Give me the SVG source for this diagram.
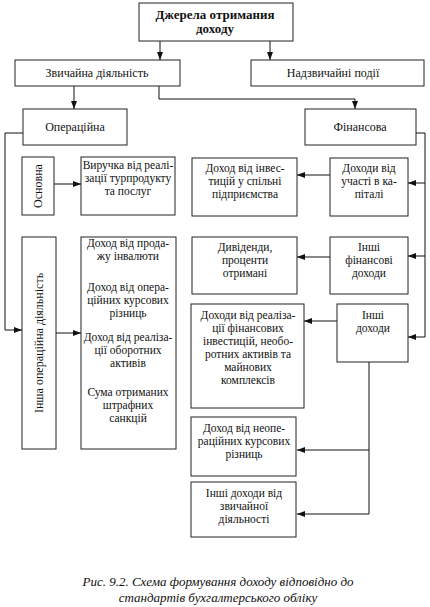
<svg xmlns="http://www.w3.org/2000/svg" width="430" height="607" viewBox="0 0 430 607">
<style>
rect.b{fill:#fff;stroke:#222;stroke-width:1}
text{font-family:"Liberation Serif","DejaVu Serif","Times New Roman",serif;font-size:11.5px;fill:#111;text-anchor:middle}
text.t{font-weight:bold;font-size:13px}
text.m{font-size:12px}
text.c{font-style:italic;font-size:13px}
.conn path{fill:none;stroke:#111;stroke-width:1}
</style>
<defs>
<marker id="ar" markerWidth="8" markerHeight="6" refX="8" refY="3" orient="auto" markerUnits="userSpaceOnUse">
<path d="M0,0 L8,3 L0,6 z" fill="#111"/>
</marker>
</defs>
<rect width="430" height="607" fill="#fff"/>
<g class="conn">
<path d="M160,41 V60" marker-end="url(#ar)"/>
<path d="M270,41 V60" marker-end="url(#ar)"/>
<path d="M74,86 V109" marker-end="url(#ar)"/>
<path d="M159,86 V99 H355 V109" marker-end="url(#ar)"/>
<path d="M23,133 H5 V330 H22" marker-end="url(#ar)"/>
<path d="M54,184 H81" marker-end="url(#ar)"/>
<path d="M56,333 H81" marker-end="url(#ar)"/>
<path d="M416,133 H425 V337 H408" marker-end="url(#ar)"/>
<path d="M425,183 H408" marker-end="url(#ar)"/>
<path d="M425,256 H408" marker-end="url(#ar)"/>
<path d="M330,175 H297" marker-end="url(#ar)"/>
<path d="M330,257 H297" marker-end="url(#ar)"/>
<path d="M337,321 H304" marker-end="url(#ar)"/>
<path d="M369,362 V514 H297" marker-end="url(#ar)"/>
<path d="M369,450 H297" marker-end="url(#ar)"/>
</g>
<g id="n-top"><rect class="b" x="139" y="3" width="154" height="38"/>
<text class="t" x="215" y="19">Джерела отримания</text><text class="t" x="215" y="33">доходу</text></g>
<g id="n-zvych"><rect class="b" x="15" y="60" width="165" height="26"/><text class="m" x="97" y="77">Звичайна діяльність</text></g>
<g id="n-nadzv"><rect class="b" x="251" y="60" width="173" height="26"/><text class="m" x="333" y="77">Надзвичайні події</text></g>
<g id="n-oper"><rect class="b" x="23" y="109" width="104" height="36"/><text class="m" x="75" y="131">Операційна</text></g>
<g id="n-fin"><rect class="b" x="305" y="109" width="111" height="36"/><text class="m" x="360" y="131">Фінансова</text></g>
<g id="n-osn"><rect class="b" x="22" y="157" width="32" height="58"/><text class="m" transform="translate(42,186) rotate(-90)">Основна</text></g>
<g id="n-vyr"><rect class="b" x="81" y="157" width="94" height="58"/>
<text x="128" y="169">Виручка від реалі-</text><text x="128" y="182">зації турпродукту</text><text x="128" y="195">та послуг</text></g>
<g id="n-insha"><rect class="b" x="22" y="237" width="34" height="212"/><text class="m" transform="translate(43,343) rotate(-90)">Інша операційна діяльність</text></g>
<g id="n-dohody-op"><rect class="b" x="81" y="237" width="95" height="212"/>
<text x="128" y="247">Доход від прода-</text><text x="128" y="260">жу інвалюти</text>
<text x="128" y="291">Доход від опера-</text><text x="128" y="304">ційних курсових</text><text x="128" y="317">різниць</text>
<text x="128" y="341">Доход від реаліза-</text><text x="128" y="354">ції оборотних</text><text x="128" y="367">активів</text>
<text x="128" y="396">Сума отриманих</text><text x="128" y="409">штрафних</text><text x="128" y="422">санкцій</text></g>
<g id="n-invest"><rect class="b" x="192" y="158" width="105" height="58"/>
<text x="245" y="172">Доход від інвес-</text><text x="245" y="185">тицій у спільні</text><text x="245" y="198">підприємства</text></g>
<g id="n-uchast"><rect class="b" x="330" y="158" width="78" height="58"/>
<text x="369" y="172">Доходи від</text><text x="369" y="185">участі в ка-</text><text x="369" y="198">піталі</text></g>
<g id="n-dyv"><rect class="b" x="192" y="237" width="105" height="57"/>
<text x="245" y="251">Дивіденди,</text><text x="245" y="264">проценти</text><text x="245" y="277">отримані</text></g>
<g id="n-inshi-fin"><rect class="b" x="330" y="237" width="78" height="57"/>
<text x="369" y="251">Інші</text><text x="369" y="264">фінансові</text><text x="369" y="277">доходи</text></g>
<g id="n-realiz"><rect class="b" x="191" y="304" width="113" height="104"/>
<text x="248" y="319">Доходи від реаліза-</text><text x="248" y="332">ції фінансових</text><text x="248" y="345">інвестицій, необо-</text><text x="248" y="358">ротних активів та</text><text x="248" y="371">майнових</text><text x="248" y="384">комплексів</text></g>
<g id="n-inshi-doh"><rect class="b" x="337" y="304" width="71" height="58"/>
<text x="373" y="319">Інші</text><text x="373" y="332">доходи</text></g>
<g id="n-neoper"><rect class="b" x="191" y="417" width="105" height="59"/>
<text x="244" y="432">Доход від неопе-</text><text x="244" y="445">раційних курсових</text><text x="244" y="458">різниць</text></g>
<g id="n-inshi-zv"><rect class="b" x="191" y="482" width="105" height="55"/>
<text x="244" y="497">Інші доходи від</text><text x="244" y="510">звичайної</text><text x="244" y="523">діяльності</text></g>
<text class="c" x="218" y="586">Рис. 9.2. Схема формування доходу відповідно до</text>
<text class="c" x="218" y="602">стандартів бухгалтерського обліку</text>
</svg>
